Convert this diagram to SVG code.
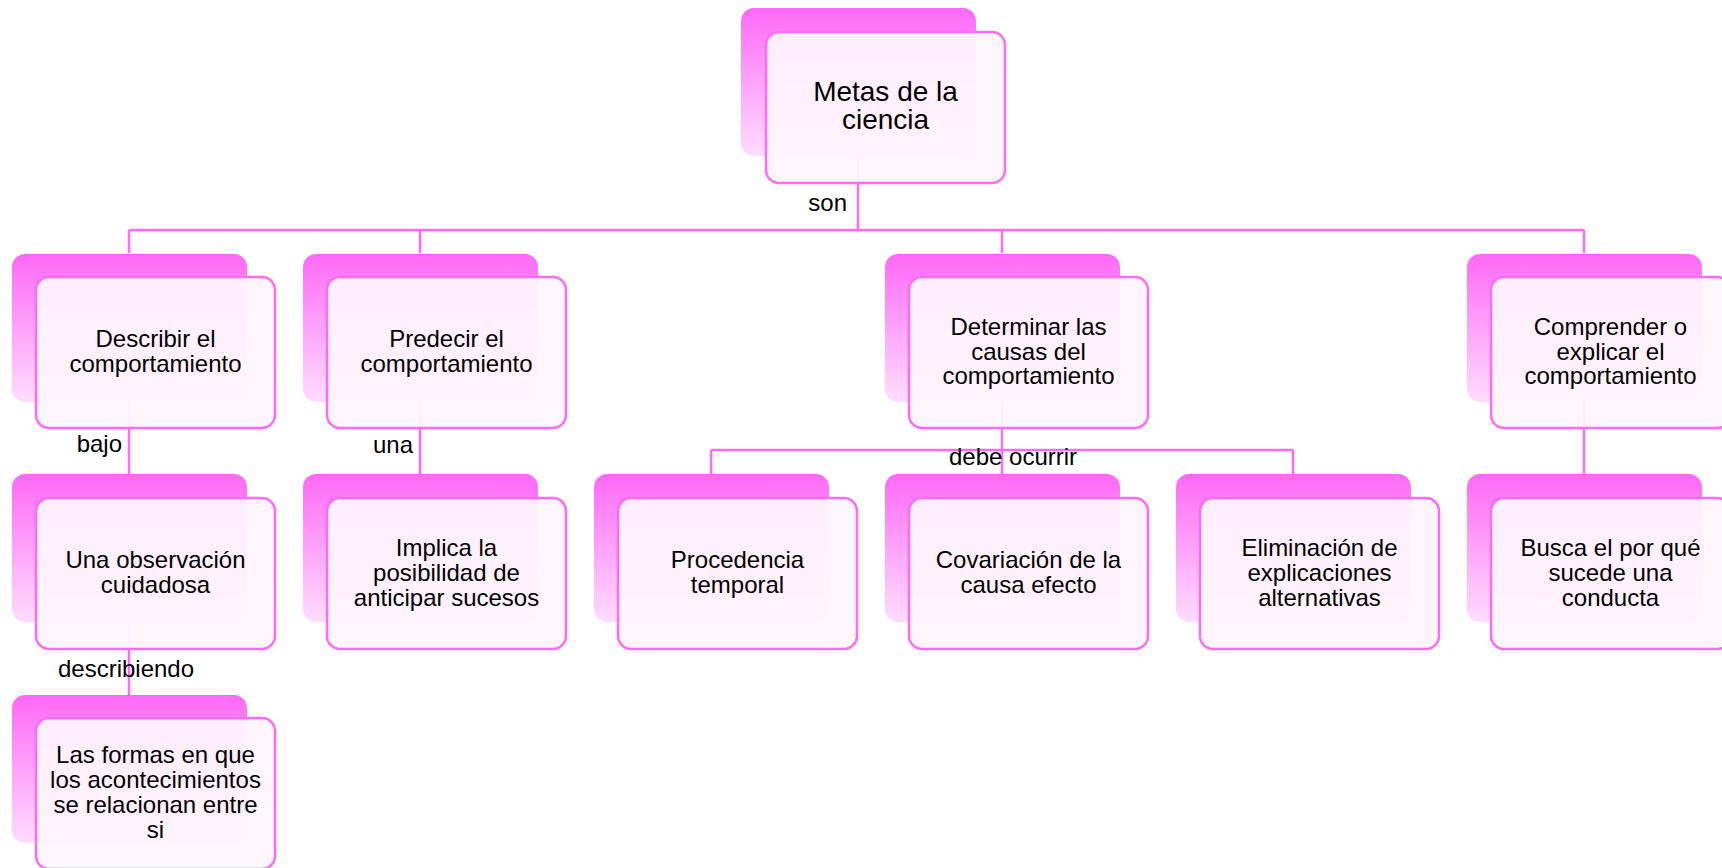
<svg xmlns="http://www.w3.org/2000/svg" width="1722" height="868" viewBox="0 0 1722 868">
<defs>
<linearGradient id="bg" x1="0" y1="0" x2="0" y2="1">
<stop offset="0" stop-color="#FF69F7"/>
<stop offset="0.5" stop-color="#FFA3FA"/>
<stop offset="1" stop-color="#FFDDFD"/>
</linearGradient>
<style>
.back{fill:url(#bg);}
.front{fill:#FFF4FD;fill-opacity:0.95;stroke:#FF6CF2;stroke-width:2.5;}
.ln{fill:none;stroke:#FF6CF2;stroke-width:2.5;}
.t{font-family:"Liberation Sans",Arial,sans-serif;font-size:24px;fill:#000;text-anchor:middle;}
.tt{font-family:"Liberation Sans",Arial,sans-serif;font-size:28px;fill:#000;text-anchor:middle;}
.lb{font-family:"Liberation Sans",Arial,sans-serif;font-size:24px;fill:#000;}
</style>
</defs>
<rect width="1722" height="868" fill="#FFFFFF"/>
<g id="connectors">
<path class="ln" d="M858 156 V230 M129 230 H1584 M129 230 V253 M420 230 V253 M1002 230 V253 M1584 230 V253"/>
<path class="ln" d="M129 402 V474 M420 402 V474 M1584 402 V474 M1002 402 V474 M711 450 H1293 M711 450 V474 M1293 450 V474 M129 622 V695"/>
<text class="lb" x="847" y="211" text-anchor="end">son</text>
<text class="lb" x="122" y="452" text-anchor="end">bajo</text>
<text class="lb" x="413" y="453" text-anchor="end">una</text>
<text class="lb" x="126" y="677" text-anchor="middle">describiendo</text>
<text class="lb" x="1013" y="465" text-anchor="middle">debe ocurrir</text>
</g>
<g id="n-metas">
<rect class="back" x="741" y="8" width="235" height="148" rx="13"/>
<rect class="front" x="766" y="32" width="239" height="151" rx="13"/>
<text class="tt"><tspan x="885.5" y="101">Metas de la</tspan><tspan x="885.5" y="129">ciencia</tspan></text>
</g>
<g id="n-describir">
<rect class="back" x="12" y="254" width="235" height="148" rx="13"/>
<rect class="front" x="36" y="277" width="239" height="151" rx="13"/>
<text class="t"><tspan x="155.5" y="347">Describir el</tspan><tspan x="155.5" y="372">comportamiento</tspan></text>
</g>
<g id="n-predecir">
<rect class="back" x="303" y="254" width="235" height="148" rx="13"/>
<rect class="front" x="327" y="277" width="239" height="151" rx="13"/>
<text class="t"><tspan x="446.5" y="347">Predecir el</tspan><tspan x="446.5" y="372">comportamiento</tspan></text>
</g>
<g id="n-determinar">
<rect class="back" x="885" y="254" width="235" height="148" rx="13"/>
<rect class="front" x="909" y="277" width="239" height="151" rx="13"/>
<text class="t"><tspan x="1028.5" y="335">Determinar las</tspan><tspan x="1028.5" y="359.5">causas del</tspan><tspan x="1028.5" y="384">comportamiento</tspan></text>
</g>
<g id="n-comprender">
<rect class="back" x="1467" y="254" width="235" height="148" rx="13"/>
<rect class="front" x="1491" y="277" width="239" height="151" rx="13"/>
<text class="t"><tspan x="1610.5" y="335">Comprender o</tspan><tspan x="1610.5" y="359.5">explicar el</tspan><tspan x="1610.5" y="384">comportamiento</tspan></text>
</g>
<g id="n-observacion">
<rect class="back" x="12" y="474" width="235" height="148" rx="13"/>
<rect class="front" x="36" y="498" width="239" height="151" rx="13"/>
<text class="t"><tspan x="155.5" y="568">Una observación</tspan><tspan x="155.5" y="592.5">cuidadosa</tspan></text>
</g>
<g id="n-implica">
<rect class="back" x="303" y="474" width="235" height="148" rx="13"/>
<rect class="front" x="327" y="498" width="239" height="151" rx="13"/>
<text class="t"><tspan x="446.5" y="556">Implica la</tspan><tspan x="446.5" y="581">posibilidad de</tspan><tspan x="446.5" y="606">anticipar sucesos</tspan></text>
</g>
<g id="n-procedencia">
<rect class="back" x="594" y="474" width="235" height="148" rx="13"/>
<rect class="front" x="618" y="498" width="239" height="151" rx="13"/>
<text class="t"><tspan x="737.5" y="568">Procedencia</tspan><tspan x="737.5" y="592.5">temporal</tspan></text>
</g>
<g id="n-covariacion">
<rect class="back" x="885" y="474" width="235" height="148" rx="13"/>
<rect class="front" x="909" y="498" width="239" height="151" rx="13"/>
<text class="t"><tspan x="1028.5" y="568">Covariación de la</tspan><tspan x="1028.5" y="592.5">causa efecto</tspan></text>
</g>
<g id="n-eliminacion">
<rect class="back" x="1176" y="474" width="235" height="148" rx="13"/>
<rect class="front" x="1200" y="498" width="239" height="151" rx="13"/>
<text class="t"><tspan x="1319.5" y="556">Eliminación de</tspan><tspan x="1319.5" y="581">explicaciones</tspan><tspan x="1319.5" y="606">alternativas</tspan></text>
</g>
<g id="n-busca">
<rect class="back" x="1467" y="474" width="235" height="148" rx="13"/>
<rect class="front" x="1491" y="498" width="239" height="151" rx="13"/>
<text class="t"><tspan x="1610.5" y="556">Busca el por qué</tspan><tspan x="1610.5" y="581">sucede una</tspan><tspan x="1610.5" y="606">conducta</tspan></text>
</g>
<g id="n-formas">
<rect class="back" x="12" y="695" width="235" height="148" rx="13"/>
<rect class="front" x="36" y="718" width="239" height="151" rx="13"/>
<text class="t"><tspan x="155.5" y="763">Las formas en que</tspan><tspan x="155.5" y="788">los acontecimientos</tspan><tspan x="155.5" y="813">se relacionan entre</tspan><tspan x="155.5" y="838">si</tspan></text>
</g>
</svg>
